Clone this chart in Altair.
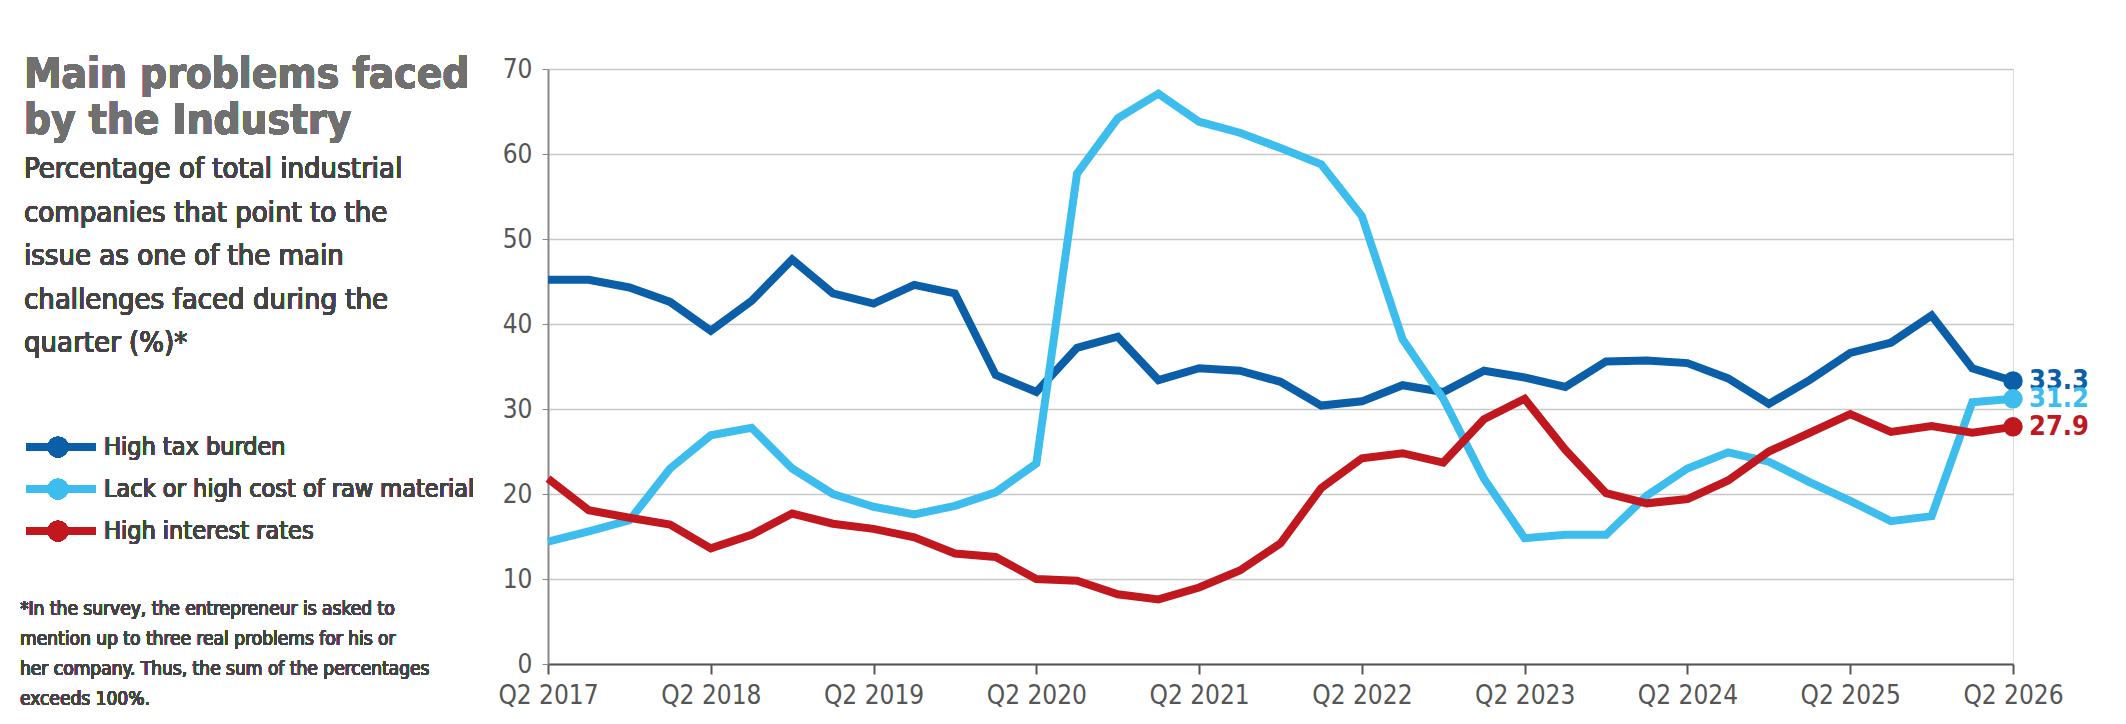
import altair as alt
import pandas as pd

series = ["High tax burden", "Lack or high cost of raw material", "High interest rates"]
colors = ["#0b5ea8", "#3dbdee", "#c0181e"]

tax = [45.2, 45.2, 44.3, 42.6, 39.2, 42.7, 47.6, 43.6, 42.4, 44.6, 43.6, 34.0, 32.0,
       37.2, 38.5, 33.4, 34.8, 34.5, 33.2, 30.4, 30.9, 32.8, 32.0, 34.5, 33.7, 32.6,
       35.6, 35.7, 35.4, 33.6, 30.6, 33.4, 36.6, 37.8, 41.0, 34.8, 33.3]
raw = [14.4, 15.6, 16.9, 23.0, 26.9, 27.8, 23.0, 20.0, 18.5, 17.6, 18.6, 20.2, 23.6,
       57.7, 64.2, 67.1, 63.8, 62.5, 60.7, 58.8, 52.7, 38.2, 31.2, 21.8, 14.8, 15.2,
       15.2, 19.8, 23.0, 24.9, 23.8, 21.4, 19.2, 16.8, 17.4, 30.8, 31.2]
rates = [21.8, 18.1, 17.2, 16.4, 13.6, 15.2, 17.7, 16.5, 15.9, 14.9, 13.0, 12.6, 10.0,
         9.8, 8.2, 7.6, 9.0, 11.0, 14.2, 20.7, 24.2, 24.8, 23.7, 28.8, 31.2, 25.2,
         20.1, 18.9, 19.4, 21.6, 25.0, 27.2, 29.4, 27.3, 28.0, 27.2, 27.9]

title_lines = ["Main problems faced", "by the Industry"]
sub_lines = ["Percentage of total industrial", "companies that point to the",
             "issue as one of the main", "challenges faced during the", "quarter (%)*"]
note_lines = ["*In the survey, the entrepreneur is asked to",
              "mention up to three real problems for his or",
              "her company. Thus, the sum of the percentages", "exceeds 100%."]

rows = []
for name, vals in zip(series, [tax, raw, rates]):
    for i, v in enumerate(vals):
        rows.append({"q": i, "v": v, "s": name})
df = pd.DataFrame(rows)
last = df[df.q == df.q.max()].copy()
last["lbl"] = last.v.map(lambda x: f"{x:.1f}")

FONT = "'DejaVu Sans Condensed', 'Liberation Sans Narrow', Roboto, sans-serif"
L, T = 540, 61
W, H = 1465, 595
color = alt.Color("s:N", scale=alt.Scale(domain=series, range=colors), legend=None)

x = alt.X("q:Q", scale=alt.Scale(domain=[0, 36], nice=False),
          axis=alt.Axis(values=list(range(0, 37, 4)), labelExpr="'Q2 ' + (2017 + datum.value / 4)",
                        title=None, grid=False, labelFontSize=26, labelFont=FONT, labelColor="#555",
                        labelPadding=8, domainColor="#555", domainWidth=2, tickColor="#555",
                        tickSize=10, tickWidth=2, labelFlush=False))
y = alt.Y("v:Q", scale=alt.Scale(domain=[0, 70]),
          axis=alt.Axis(values=list(range(0, 71, 10)), title=None, labelFontSize=26, labelFont=FONT,
                        labelColor="#555", gridColor="#c8c8c8", gridWidth=1.5, domainColor="#888",
                        domainWidth=2, tickColor="#888", tickSize=6, labelPadding=10))

lines = alt.Chart(df).mark_line(strokeWidth=8).encode(x=x, y=y, color=color, order="q:Q")
ends = alt.Chart(last).mark_circle(size=380, opacity=1).encode(x="q:Q", y="v:Q", color=color)
end_lbl = alt.Chart(last).mark_text(align="left", dx=16, fontSize=27, fontWeight="bold",
                                    font=FONT).encode(x="q:Q", y="v:Q", text="lbl:N", color=color)

layers = [lines, ends, end_lbl]


def text_block(lines_, x0, y0, step, size, weight="normal", col="#444"):
    out = []
    for i, t in enumerate(lines_):
        out.append(alt.Chart(df).mark_text(align="left", baseline="middle", fontSize=size,
                                           fontWeight=weight, font=FONT, color=col, text=t).encode(
            x=alt.value(x0 - L), y=alt.value(y0 - T + i * step)))
    return out


layers += text_block(title_lines, 16, 67, 46, 42, "bold", "#707070")
layers += text_block(sub_lines, 16, 161, 43.6, 29)
layers += text_block(note_lines, 12, 601, 30, 19)

for i, (s, c) in enumerate(zip(series, colors)):
    py = [439, 481, 523][i] - T
    layers.append(alt.Chart(df).mark_rule(strokeWidth=7, color=c).encode(
        x=alt.value(18 - L), x2=alt.value(88 - L), y=alt.value(py)))
    layers.append(alt.Chart(df).mark_point(size=420, filled=True, opacity=1, color=c, shape="circle").encode(
        x=alt.value(50 - L), y=alt.value(py)))
    layers.append(alt.Chart(df).mark_text(align="left", baseline="middle", fontSize=25, font=FONT,
                                          color="#444", text=s).encode(
        x=alt.value(96 - L), y=alt.value(py)))

chart = alt.layer(*layers).properties(
    width=W, height=H, autosize="none",
    padding={"left": L, "top": T, "right": 2110 - L - W, "bottom": 60}
).configure_view(stroke=None).configure(background="white")

chart.save("out.html", embed_options={"renderer": "svg", "actions": False})
